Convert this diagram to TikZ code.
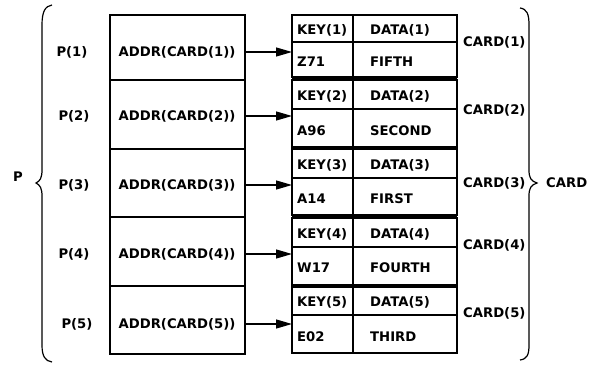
\documentclass[tikz,border=0pt]{standalone}
\usepackage{fontspec}
\setmainfont{DejaVu Sans}
\usetikzlibrary{arrows.meta}
\begin{document}
\begin{tikzpicture}[x=1pt,y=-1pt,
  cell/.style={draw,line width=1.3pt,inner sep=0pt,outer sep=0pt,rectangle},
  lbl/.style={font=\fontsize{13.2}{14}\selectfont\bfseries,inner sep=0pt},
  arr/.style={line width=1.3pt,-{Triangle[length=16pt,width=9pt]}},
  brace/.style={line width=1.2pt}]
\useasboundingbox (0,0) rectangle (594,364);
% left array cells
\foreach \i/\t/\b in {1/15/80,2/80/149,3/149/217,4/217/286,5/286/354}{
  \node[cell,minimum width=135pt,minimum height={\b-\t}] (l\i) at (177.5,{(\t+\b)/2}) {};
}
% ADDR texts and P labels
\foreach \i/\y/\px in {1/52/72,2/116/74,3/185/74,4/254/74,5/324/77}{
  \node[lbl] (a\i) at (177,\y) {ADDR(CARD(\i))};
  \node[lbl] (p\i) at (\px,\y) {P(\i)};
}
% cards
\foreach \i/\t/\d/\b in {1/15/42/77,2/80/109/147,3/149/178/215,4/218/247/285,5/287/315/353}{
  \node[cell,minimum width=61pt,minimum height={\d-\t}] (k\i) at (322.5,{(\t+\d)/2}) {};
  \node[cell,minimum width=104pt,minimum height={\d-\t}] (d\i) at (405,{(\t+\d)/2}) {};
  \node[cell,minimum width=61pt,minimum height={\b-\d}] (v\i) at (322.5,{(\d+\b)/2}) {};
  \node[cell,minimum width=104pt,minimum height={\b-\d}] (w\i) at (405,{(\d+\b)/2}) {};
  \node[lbl,anchor=west] (kt\i) at (297,{(\t+\d)/2+1.5}) {KEY(\i)};
  \node[lbl,anchor=west] (dt\i) at (370,{(\t+\d)/2+1.5}) {DATA(\i)};
}
% separator bands
\fill (v1.south west) rectangle (d2.north east -| w1.east);
\fill (v2.south west) rectangle (d3.north east -| w2.east);
\fill (v3.south west) rectangle (d4.north east -| w3.east);
\fill (v4.south west) rectangle (d5.north east -| w4.east);
% values
\foreach \i/\k/\v/\y in {1/Z71/FIFTH/62,2/A96/SECOND/131,3/A14/FIRST/199,4/W17/FOURTH/268,5/E02/THIRD/337}{
  \node[lbl,anchor=west] (kv\i) at (297,\y) {\k};
  \node[lbl,anchor=west] (dv\i) at (370,\y) {\v};
}
% arrows
\foreach \i in {1,...,5}{
  \draw[arr] (l\i.east |- a\i) -- (v\i.west |- a\i);
}
% card labels
\foreach \i/\y in {1/42,2/110,3/183,4/245,5/313}{
  \node[lbl,anchor=west] (c\i) at (463,\y) {CARD(\i)};
}
\node[lbl] (pp) at (18,177) {P};
\node[lbl,anchor=west] (cc) at (546,183) {CARD};
% braces
\draw[brace] (52,5) .. controls (45,6) and (42,12) .. (42,25) -- (42,170) .. controls (42,178) and (40,181) .. (36,183) .. controls (40,185) and (42,188) .. (42,196) -- (42,345) .. controls (42,356) and (45,361) .. (52,362);
\draw[brace] (520,8) .. controls (527,9) and (529,14) .. (529,25) -- (529,170) .. controls (529,178) and (531,181) .. (537,183) .. controls (531,185) and (529,188) .. (529,196) -- (529,345) .. controls (529,355) and (527,359) .. (520,360);
\end{tikzpicture}
\end{document}
